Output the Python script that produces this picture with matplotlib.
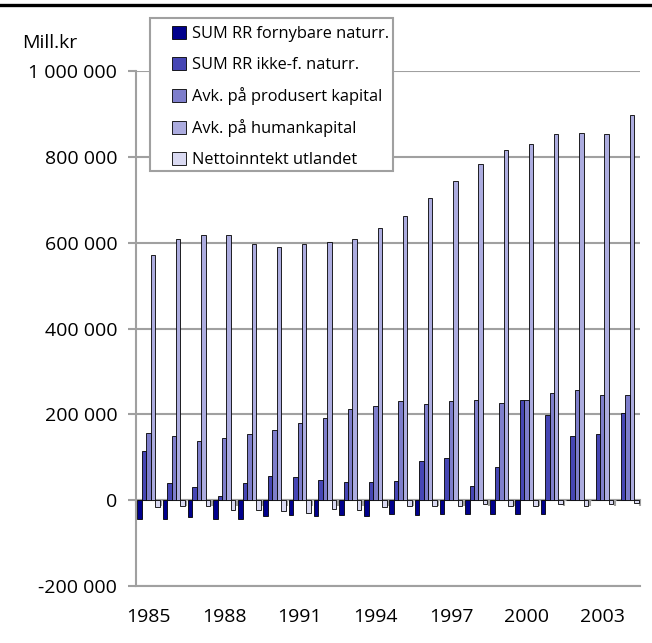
import matplotlib
matplotlib.use("Agg")
import matplotlib.pyplot as plt
import numpy as np
from matplotlib.ticker import FuncFormatter
from matplotlib.lines import Line2D
from matplotlib.patches import Rectangle

plt.rcParams['font.family'] = ['Open Sans', 'DejaVu Sans']

years = list(range(1985, 2005))
labels = ['SUM RR fornybare naturr.', 'SUM RR ikke-f. naturr.',
          'Avk. på produsert kapital', 'Avk. på humankapital',
          'Nettoinntekt utlandet']

rr_fornybare = [-43000, -43000, -40000, -44000, -43000, -38000, -35000, -37000, -35000, -37000,
                -33000, -35000, -33000, -33000, -33000, -33000, -33000, 0, 0, 0]
rr_ikke_forn = [115000, 40000, 30000, 10000, 40000, 57000, 55000, 47000, 43000, 42000,
                45000, 92000, 99000, 34000, 77000, 233000, 199000, 150000, 155000, 204000]
prod_kapital = [156000, 149000, 137000, 144000, 154000, 164000, 179000, 192000, 212000, 220000,
                232000, 223000, 232000, 234000, 227000, 234000, 250000, 256000, 246000, 244000]
human_kapital = [572000, 609000, 619000, 618000, 596000, 589000, 597000, 601000, 608000, 634000,
                 661000, 705000, 743000, 784000, 816000, 831000, 853000, 856000, 854000, 898000]
netto_utland = [-17000, -13000, -13000, -22000, -23000, -26000, -31000, -21000, -23000, -17000,
                -13000, -13000, -13000, -9000, -14000, -13000, -9000, -13000, -9000, -6000]

series = [rr_fornybare, rr_ikke_forn, prod_kapital, human_kapital, netto_utland]
colors = ['#00008c', '#4646b4', '#7e7ecb', '#acacdf', '#dadaf2']
grey = '#a0a0a0'

fig = plt.figure(figsize=(6.52, 6.43), dpi=100)
ax = fig.add_axes([136/652, 1-586/643, 504/652, 515/643])

x = np.arange(len(years))
w = 0.177
for i, (vals, c, lab) in enumerate(zip(series, colors, labels)):
    ax.bar(x + (i - 2) * w, vals, w, color=c, edgecolor='black', linewidth=0.6,
           label=lab, zorder=2)

ax.set_xlim(-0.5, len(years) - 0.5)
ax.set_ylim(-200000, 1000000)
ax.set_yticks(np.arange(-200000, 1000001, 200000))
ax.yaxis.set_major_formatter(FuncFormatter(lambda v, p: f"{v:,.0f}".replace(",", " ")))
ax.set_xticks(x[::3])
ax.set_xticklabels([str(y) for y in years[::3]])
ax.grid(axis='y', color=grey, linewidth=1.5, zorder=0)
ax.set_axisbelow(True)
for s in ['top', 'right']:
    ax.spines[s].set_visible(False)
for s in ['left', 'bottom']:
    ax.spines[s].set_color(grey)
    ax.spines[s].set_linewidth(1.5)
ax.tick_params(axis='y', length=6, width=1.5, color=grey, pad=7.5, labelsize=14)
ax.tick_params(axis='x', length=0, pad=16, labelsize=14)

# zero line with category ticks
sec = ax.secondary_xaxis(1/6)
sec.set_xticks(np.arange(-0.5, len(years), 1))
sec.tick_params(length=4.5, width=1.5, color=grey, labelbottom=False, labeltop=False)
for s in sec.spines.values():
    s.set_color(grey)
    s.set_linewidth(1.5)

fig.text(22/652, 1-43/643, 'Mill.kr', fontsize=14, ha='left', va='center')
fig.add_artist(Line2D([0, 1], [1-4.5/643, 1-4.5/643], transform=fig.transFigure,
                      color='black', linewidth=2.4))

# legend box
fig.add_artist(Rectangle((150/652, 1-171/643), 243/652, 153/643, transform=fig.transFigure,
                         facecolor='white', edgecolor=grey, linewidth=1.5, zorder=3))
leg = fig.legend(loc='upper left', bbox_to_anchor=(172/652, 1-26/643), borderaxespad=0,
                 fontsize=11.8, frameon=False, handlelength=0.85, handleheight=0.85,
                 handletextpad=0.37, labelspacing=0.875, borderpad=0)
leg.set_zorder(4)

plt.savefig('out.png', dpi=100)
